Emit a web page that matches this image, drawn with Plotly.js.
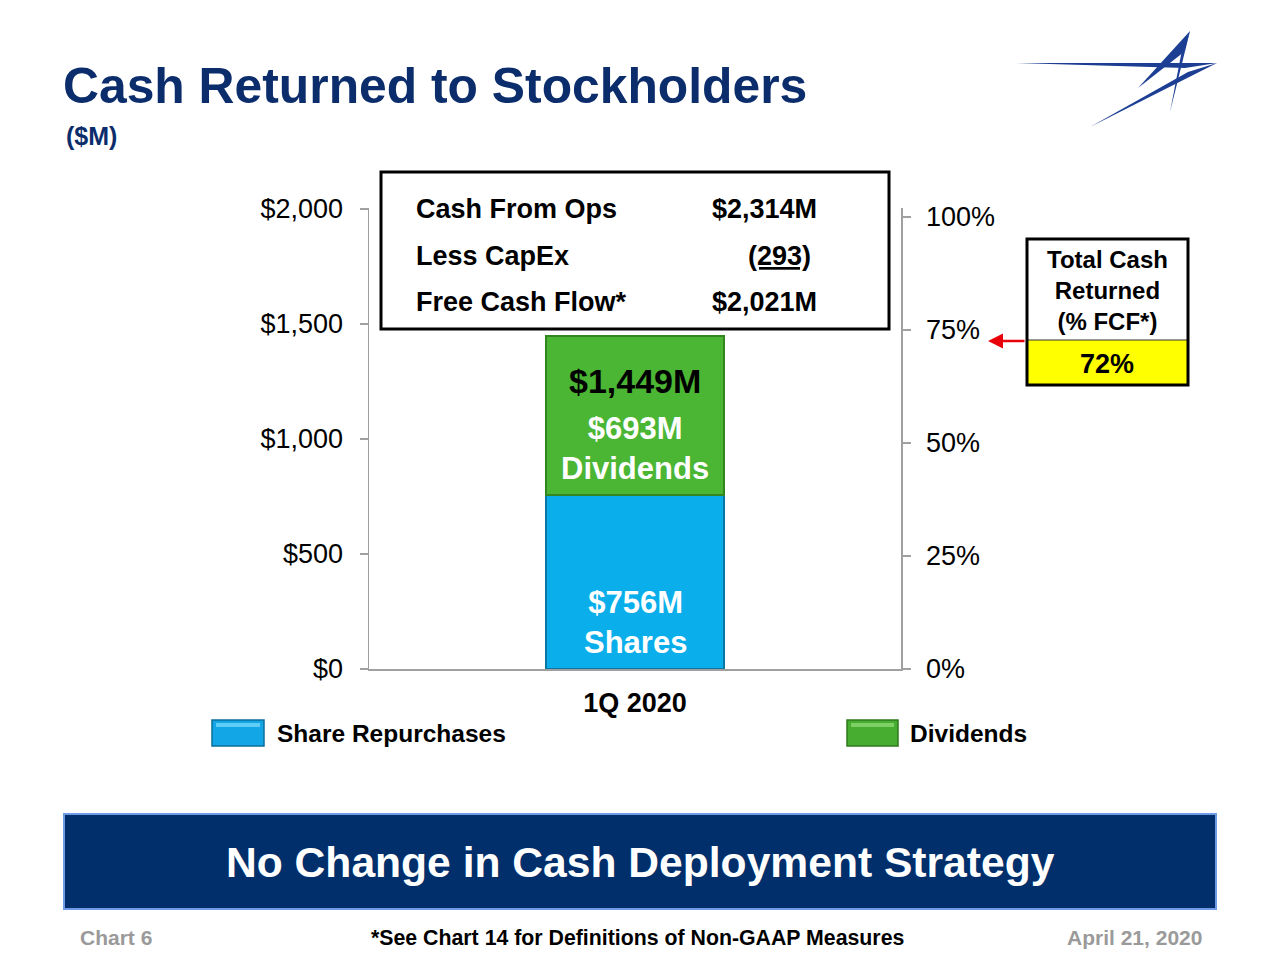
<!DOCTYPE html>
<html>
<head>
<meta charset="utf-8">
<script src="https://cdn.plot.ly/plotly-3.0.1.min.js"></script>
<style>html,body{margin:0;padding:0;background:#fff;}#chart{width:1280px;height:960px;}</style>
</head>
<body>
<div id="chart"></div>
<script>
// ---- data ----
const categories = ['1Q 2020'];
const shareRepurchases = [756];
const dividends = [693];
const totalReturned = [1449];
const pctOfFCF = [72];
const cashFromOps = 2314;
const capEx = 293;
const freeCashFlow = 2021;
const leftTickVals = [0, 500, 1000, 1500, 2000];
const leftTickText = ['$0', '$500', '$1,000', '$1,500', '$2,000'];
const rightTickVals = [0, 25, 50, 75, 100];
const rightTickText = ['0%', '25%', '50%', '75%', '100%'];

// ---- helpers (pixel -> paper) ----
const L = 369, R = 901, T = 208, B = 669;
const W = R - L, H = B - T;
function px(x){ return (x - L) / W; }
function py(y){ return (B - y) / H; }
function fmt(v){ return '$' + v.toLocaleString('en-US') + 'M'; }
function poly(pts){ return 'M' + pts.map(p => px(p[0]) + ',' + py(p[1])).join(' L') + ' Z'; }

const FONT = 'Liberation Sans, Arial, Helvetica, sans-serif';
const NAVY = '#0c2d6b';
const BLUE = '#0aaeea';
const GREEN = '#4bb534';

const traces = [
  {
    type: 'bar', name: 'Share Repurchases', x: categories, y: shareRepurchases,
    width: [0.336], marker: {color: BLUE, line: {color: '#0b76a3', width: 2}},
    hoverinfo: 'skip', showlegend: false
  },
  {
    type: 'bar', name: 'Dividends', x: categories, y: dividends,
    width: [0.336], marker: {color: GREEN, line: {color: '#33851f', width: 2}},
    hoverinfo: 'skip', showlegend: false
  },
  {
    type: 'scatter', mode: 'markers', x: categories, y: pctOfFCF, yaxis: 'y2',
    marker: {opacity: 0, size: 1}, hoverinfo: 'skip', showlegend: false
  }
];

const annotations = [
  // subtitle
  {xref: 'paper', yref: 'paper', x: px(64), y: py(136), xanchor: 'left', yanchor: 'middle',
   text: '<b>($M)</b>', showarrow: false, font: {family: FONT, size: 25, color: NAVY}},
  // bar labels
  {xref: 'x', yref: 'y', x: categories[0], y: shareRepurchases[0] * 0.27, xanchor: 'center', yanchor: 'middle',
   text: '<b>' + fmt(shareRepurchases[0]) + '<br>Shares</b>', showarrow: false,
   font: {family: FONT, size: 31, color: '#ffffff'}},
  {xref: 'x', yref: 'y', x: categories[0], y: shareRepurchases[0] + dividends[0] * 0.29, xanchor: 'center', yanchor: 'middle',
   text: '<b>' + fmt(dividends[0]) + '<br>Dividends</b>', showarrow: false,
   font: {family: FONT, size: 31, color: '#ffffff'}},
  {xref: 'x', yref: 'y', x: categories[0], y: totalReturned[0], xanchor: 'center', yanchor: 'middle', yshift: -45,
   text: '<b>' + fmt(totalReturned[0]) + '</b>', showarrow: false,
   font: {family: FONT, size: 34, color: '#000000'}},
  // cash flow box
  {xref: 'paper', yref: 'paper', x: px(414), y: py(209), xanchor: 'left', yanchor: 'middle',
   text: '<b>Cash From Ops</b>', showarrow: false, font: {family: FONT, size: 27, color: '#000'}},
  {xref: 'paper', yref: 'paper', x: px(414), y: py(256), xanchor: 'left', yanchor: 'middle',
   text: '<b>Less CapEx</b>', showarrow: false, font: {family: FONT, size: 27, color: '#000'}},
  {xref: 'paper', yref: 'paper', x: px(414), y: py(302), xanchor: 'left', yanchor: 'middle',
   text: '<b>Free Cash Flow*</b>', showarrow: false, font: {family: FONT, size: 27, color: '#000'}},
  {xref: 'paper', yref: 'paper', x: px(710), y: py(209), xanchor: 'left', yanchor: 'middle',
   text: '<b>' + fmt(cashFromOps) + '</b>', showarrow: false, font: {family: FONT, size: 27, color: '#000'}},
  {xref: 'paper', yref: 'paper', x: px(813), y: py(256), xanchor: 'right', yanchor: 'middle',
   text: '<b><u>(' + capEx + ')</u></b>', showarrow: false, font: {family: FONT, size: 27, color: '#000'}},
  {xref: 'paper', yref: 'paper', x: px(710), y: py(302), xanchor: 'left', yanchor: 'middle',
   text: '<b>' + fmt(freeCashFlow) + '</b>', showarrow: false, font: {family: FONT, size: 27, color: '#000'}},
  // total cash returned box
  {xref: 'paper', yref: 'paper', x: px(1107), y: py(290), xanchor: 'center', yanchor: 'middle',
   text: '<b>Total Cash<br>Returned<br>(% FCF*)</b>', showarrow: false,
   font: {family: FONT, size: 24, color: '#000'}},
  {xref: 'paper', yref: 'paper', x: px(1107), y: py(364), xanchor: 'center', yanchor: 'middle',
   text: '<b>' + pctOfFCF[0] + '%</b>', showarrow: false, font: {family: FONT, size: 27, color: '#000'}},
  // red arrow
  {xref: 'paper', yref: 'paper', x: px(988), y: py(341), ax: 38, ay: 0, text: '', showarrow: true,
   arrowhead: 2, arrowsize: 1.2, arrowwidth: 2.5, arrowcolor: '#e8000b'},
  // legend labels
  {xref: 'paper', yref: 'paper', x: px(275), y: py(733), xanchor: 'left', yanchor: 'middle',
   text: '<b>Share Repurchases</b>', showarrow: false, font: {family: FONT, size: 24.5, color: '#000'}},
  {xref: 'paper', yref: 'paper', x: px(908), y: py(733), xanchor: 'left', yanchor: 'middle',
   text: '<b>Dividends</b>', showarrow: false, font: {family: FONT, size: 24.5, color: '#000'}},
  // banner
  {xref: 'paper', yref: 'paper', x: px(640), y: py(862), xanchor: 'center', yanchor: 'middle',
   text: '<b>No Change in Cash Deployment Strategy</b>', showarrow: false,
   font: {family: FONT, size: 42.6, color: '#ffffff'}},
  // footer
  {xref: 'paper', yref: 'paper', x: px(78), y: py(938), xanchor: 'left', yanchor: 'middle',
   text: '<b>Chart 6</b>', showarrow: false, font: {family: FONT, size: 21, color: '#9a9a9a'}},
  {xref: 'paper', yref: 'paper', x: px(637), y: py(938), xanchor: 'center', yanchor: 'middle',
   text: '<b>*See Chart 14 for Definitions of Non-GAAP Measures</b>', showarrow: false,
   font: {family: FONT, size: 21.3, color: '#000'}},
  {xref: 'paper', yref: 'paper', x: px(1204), y: py(938), xanchor: 'right', yanchor: 'middle',
   text: '<b>April 21, 2020</b>', showarrow: false, font: {family: FONT, size: 21, color: '#9a9a9a'}}
];

const shapes = [
  // cash flow box
  {type: 'rect', xref: 'paper', yref: 'paper', x0: px(381), x1: px(889), y0: py(172), y1: py(329),
   line: {color: '#000', width: 3}, fillcolor: 'rgba(255,255,255,1)', layer: 'above'},
  // total cash box
  {type: 'rect', xref: 'paper', yref: 'paper', x0: px(1027), x1: px(1188), y0: py(340), y1: py(385),
   line: {width: 0}, fillcolor: '#ffff00'},
  {type: 'line', xref: 'paper', yref: 'paper', x0: px(1027), x1: px(1188), y0: py(340), y1: py(340),
   line: {color: '#333', width: 1}},
  {type: 'rect', xref: 'paper', yref: 'paper', x0: px(1027), x1: px(1188), y0: py(239), y1: py(385),
   line: {color: '#000', width: 3}, fillcolor: 'rgba(0,0,0,0)'},
  // legend swatches
  {type: 'rect', xref: 'paper', yref: 'paper', x0: px(212), x1: px(264), y0: py(720), y1: py(746),
   line: {color: '#0b6f9c', width: 1.5}, fillcolor: '#12a6e6'},
  {type: 'rect', xref: 'paper', yref: 'paper', x0: px(216), x1: px(260), y0: py(723), y1: py(727),
   line: {width: 0}, fillcolor: '#5fcdf5'},
  {type: 'rect', xref: 'paper', yref: 'paper', x0: px(847), x1: px(898), y0: py(720), y1: py(746),
   line: {color: '#2f7a1c', width: 1.5}, fillcolor: '#47ad31'},
  {type: 'rect', xref: 'paper', yref: 'paper', x0: px(851), x1: px(894), y0: py(723), y1: py(727),
   line: {width: 0}, fillcolor: '#7fd064'},
  // banner
  {type: 'rect', xref: 'paper', yref: 'paper', x0: px(64), x1: px(1216), y0: py(814), y1: py(909),
   line: {color: '#6f9be6', width: 2}, fillcolor: '#002f6c'},
  // logo
  {type: 'path', xref: 'paper', yref: 'paper', path: poly([[1016,63],[1217,63],[1185,68]]),
   line: {width: 0}, fillcolor: '#1c3f94'},
  {type: 'path', xref: 'paper', yref: 'paper', path: poly([[1217,63],[1090,127],[1188,72]]),
   line: {width: 0}, fillcolor: '#1c3f94'},
  {type: 'path', xref: 'paper', yref: 'paper', path: poly([[1190,31],[1138,88],[1184,52]]),
   line: {width: 0}, fillcolor: '#1c3f94'},
  {type: 'path', xref: 'paper', yref: 'paper', path: poly([[1190,31],[1170,112],[1181,55]]),
   line: {width: 0}, fillcolor: '#1c3f94'}
];

const layout = {
  width: 1280, height: 960,
  margin: {l: L, r: 1280 - R, t: T, b: 960 - B, pad: 0},
  paper_bgcolor: '#ffffff', plot_bgcolor: '#ffffff',
  title: {text: '<b>Cash Returned to Stockholders</b>', xref: 'container', yref: 'container',
          x: 63 / 1280, xanchor: 'left', y: 1 - 86 / 960, yanchor: 'middle',
          font: {family: FONT, size: 49.8, color: NAVY}},
  barmode: 'stack',
  showlegend: false,
  xaxis: {
    type: 'category', range: [-0.5, 0.5], tickvals: categories,
    ticktext: categories.map(c => '<b>' + c + '</b>'),
    showline: true, linecolor: '#a0a0a0', linewidth: 1.5, ticks: '', showgrid: false,
    zeroline: false, tickfont: {family: FONT, size: 27, color: '#000'}, ticklabelstandoff: 9
  },
  yaxis: {
    range: [0, 2000 * H / (B - 209)], tickvals: leftTickVals, ticktext: leftTickText,
    showline: true, linecolor: '#a0a0a0', linewidth: 1.5, ticks: 'outside', ticklen: 8,
    tickcolor: '#a0a0a0', tickwidth: 1.5, showgrid: false, zeroline: false,
    tickfont: {family: FONT, size: 27, color: '#000'}, ticklabelstandoff: 11
  },
  yaxis2: {
    overlaying: 'y', side: 'right', range: [0, 100 * H / (B - 217)],
    tickvals: rightTickVals, ticktext: rightTickText,
    showline: true, linecolor: '#a0a0a0', linewidth: 1.5, ticks: 'outside', ticklen: 8,
    tickcolor: '#a0a0a0', tickwidth: 1.5, showgrid: false, zeroline: false,
    tickfont: {family: FONT, size: 27, color: '#000'}, ticklabelstandoff: 10
  },
  annotations: annotations,
  shapes: shapes
};

Plotly.newPlot('chart', traces, layout, {displayModeBar: false, staticPlot: true});
</script>
</body>
</html>
